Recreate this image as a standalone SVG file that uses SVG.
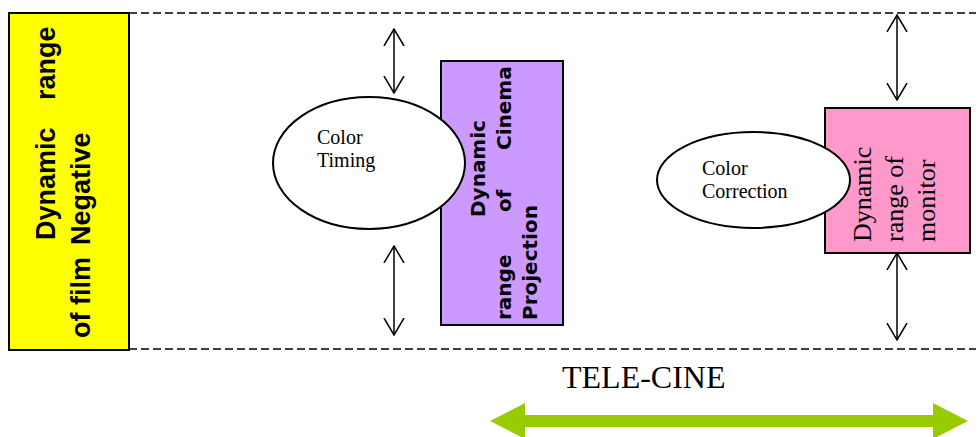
<svg xmlns="http://www.w3.org/2000/svg" width="980" height="437" viewBox="0 0 980 437">
<style>
.guide{stroke:#000;stroke-width:1.5;stroke-dasharray:8 4;fill:none}
.box{stroke:#000;stroke-width:2}
.ell{fill:#fff;stroke:#000;stroke-width:2}
.conn{stroke:#000;stroke-width:1.5;fill:none;marker-start:url(#head);marker-end:url(#head)}
.arial{font-family:"Liberation Sans",Arial,sans-serif;font-weight:bold;font-size:27px;fill:#000}
.sans{font-family:"DejaVu Sans",Verdana,sans-serif;font-weight:bold;font-size:20px;fill:#000}
.serif{font-family:"Liberation Serif","Times New Roman",serif;font-size:20px;fill:#000}
.serifL{font-family:"Liberation Serif","Times New Roman",serif;font-size:26px;fill:#000}
</style>
<defs>
<marker id="head" markerUnits="userSpaceOnUse" viewBox="0 0 18 22" markerWidth="18" markerHeight="22" refX="17" refY="11" orient="auto-start-reverse">
<path d="M0,1 L17,11 L0,21" fill="none" stroke="#000" stroke-width="1.5"/>
</marker>
</defs>
<rect width="980" height="437" fill="#fff"/>
<g id="guides">
<line class="guide" x1="129" y1="13" x2="976" y2="13"/>
<line class="guide" x1="129" y1="349" x2="976" y2="349"/>
</g>
<g id="film-negative">
<rect class="box" x="9" y="13" width="120" height="337" fill="#ffff00"/>
<text class="arial" transform="translate(55,240) rotate(-90)">Dynamic</text>
<text class="arial" transform="translate(55,100) rotate(-90)">range</text>
<text class="arial" transform="translate(90,338) rotate(-90)">of film</text>
<text class="arial" transform="translate(90,245) rotate(-90)">Negative</text>
</g>
<g id="cinema-projection">
<rect class="box" x="441" y="61" width="122" height="264" fill="#cc99ff"/>
<text class="sans" transform="translate(485,217) rotate(-90)">Dynamic</text>
<text class="sans" transform="translate(511,320) rotate(-90)">range</text>
<text class="sans" transform="translate(511,212) rotate(-90)">of</text>
<text class="sans" transform="translate(511,150) rotate(-90)">Cinema</text>
<text class="sans" transform="translate(537,320) rotate(-90)">Projection</text>
</g>
<g id="color-timing">
<ellipse class="ell" cx="369" cy="163" rx="96" ry="66"/>
<text class="serif" x="317" y="144">Color</text>
<text class="serif" x="317" y="167">Timing</text>
</g>
<g id="monitor">
<rect class="box" x="825" y="108" width="145" height="145" fill="#ff99cc"/>
<text class="serifL" transform="translate(871,242) rotate(-90)">Dynamic</text>
<text class="serifL" transform="translate(903,242) rotate(-90)">range of</text>
<text class="serifL" transform="translate(935,242) rotate(-90)">monitor</text>
</g>
<g id="color-correction">
<ellipse class="ell" cx="753.5" cy="180" rx="96.5" ry="48"/>
<text class="serif" x="702" y="175">Color</text>
<text class="serif" x="702" y="198">Correction</text>
</g>
<g id="connectors">
<line class="conn" x1="394" y1="29" x2="394" y2="93"/>
<line class="conn" x1="394" y1="246" x2="394" y2="335"/>
<line class="conn" x1="897" y1="15" x2="897" y2="100"/>
<line class="conn" x1="897" y1="253" x2="897" y2="340"/>
</g>
<g id="telecine">
<text x="562" y="388" font-family="'Liberation Serif','Times New Roman',serif" font-size="32" fill="#000">TELE-CINE</text>
<polygon fill="#99cc00" points="490,421 525,403 525,415 933,415 933,403 968,421 933,439 933,427 525,427 525,439"/>
</g>
</svg>
